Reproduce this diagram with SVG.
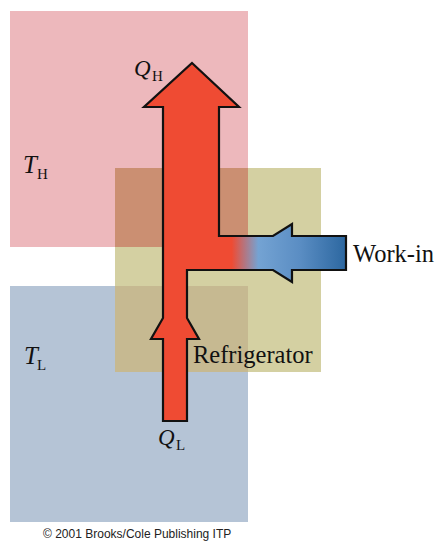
<svg xmlns="http://www.w3.org/2000/svg" width="439" height="542" viewBox="0 0 439 542">
<style>
.lbl{font-family:"Liberation Serif","Times New Roman",serif;fill:#111}
.it{font-style:italic}
.copy{font-family:"Liberation Sans",Arial,sans-serif;font-size:12px;fill:#222}
</style>
<defs>
<linearGradient id="wg" gradientUnits="userSpaceOnUse" x1="219" y1="0" x2="346" y2="0">
<stop offset="0" stop-color="#EF4B33"/>
<stop offset="0.10" stop-color="#EF4B33"/>
<stop offset="0.31" stop-color="#74A3D3"/>
<stop offset="0.64" stop-color="#5A8DC3"/>
<stop offset="1" stop-color="#2C67A0"/>
</linearGradient>
</defs>
<rect width="439" height="542" fill="#fff"/>
<g id="hot-reservoir">
<rect x="10" y="11" width="238" height="236" fill="#EDB8BC"/>
<text class="lbl it" x="23" y="173" font-size="25">T</text>
<text class="lbl" x="37" y="179" font-size="15">H</text>
</g>
<g id="cold-reservoir">
<rect x="10" y="286" width="238" height="236" fill="#B5C4D6"/>
<text class="lbl it" x="24" y="364" font-size="25">T</text>
<text class="lbl" x="37" y="370" font-size="15">L</text>
</g>
<g id="refrigerator">
<rect x="115" y="168" width="206" height="204" fill="#D4D0A2"/>
<rect x="115" y="168" width="133" height="79" fill="#CB8F72"/>
<rect x="115" y="286" width="133" height="86" fill="#C6B991"/>
<text class="lbl" x="193" y="363" font-size="24.5">Refrigerator</text>
</g>
<g id="connectors">
<polygon fill="#EF4B33" points="192,63 239,107 219,107 219,236 219,270 187,270 187,318 199,339 187,339 187,421 163,421 163,339 151,339 163,318 163,107 144,107"/>
<polygon fill="url(#wg)" points="218,236 273,236 292,224 292,236 346,236 346,270 292,270 292,282 273,270 218,270"/>
<polygon fill="none" stroke="#111" stroke-width="2.2" stroke-linejoin="miter" points="192,63 239,107 219,107 219,236 273,236 292,224 292,236 346,236 346,270 292,270 292,282 273,270 187,270 187,318 199,339 187,339 187,421 163,421 163,339 151,339 163,318 163,107 144,107"/>
</g>
<g id="labels">
<text class="lbl it" x="134" y="76" font-size="23">Q</text>
<text class="lbl" x="152" y="81" font-size="15">H</text>
<text class="lbl it" x="158" y="445" font-size="23">Q</text>
<text class="lbl" x="176" y="450" font-size="15">L</text>
<text class="lbl" x="353" y="262" font-size="24.5">Work-in</text>
<text class="copy" x="43" y="538">© 2001 Brooks/Cole Publishing ITP</text>
</g>
</svg>
